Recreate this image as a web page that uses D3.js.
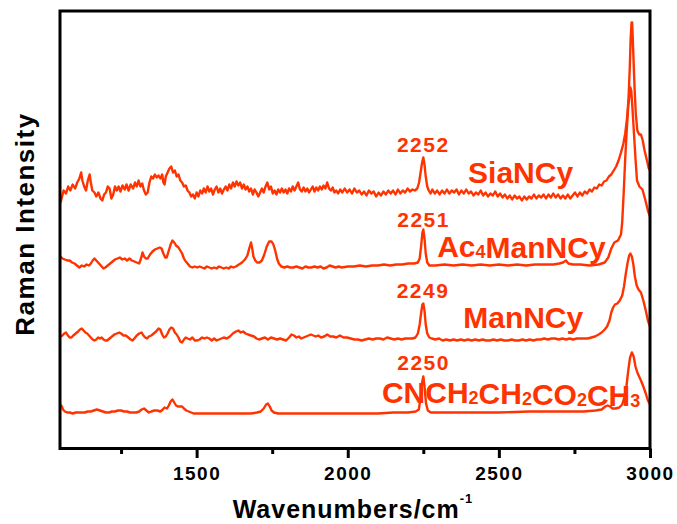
<!DOCTYPE html>
<html>
<head>
<meta charset="utf-8">
<script src="https://cdn.jsdelivr.net/npm/d3@7"></script>
<style>
  html, body { margin: 0; padding: 0; background: #fff; }
  svg { display: block; }
  text { font-family: "Liberation Sans", Arial, sans-serif; font-weight: bold; }
</style>
</head>
<body>
<svg id="chart" width="677" height="524"></svg>
<script>
// ---------- data (wavenumber cm^-1, intensity a.u. incl. stacking offset) ----------
const siaNCy = [[1050,246],[1055,252],[1060,258],[1068,255],[1075,262],[1082,258],[1090,264],[1098,260],[1105,266],[1112,270],[1118,276],[1122,268],[1128,262],[1134,258],[1140,268],[1146,274],[1150,266],[1155,258],[1162,256],[1168,252],[1175,256],[1182,250],[1188,248],[1194,254],[1200,256],[1206,262],[1212,260],[1218,250],[1224,254],[1230,262],[1236,258],[1242,262],[1248,257],[1255,263],[1262,259],[1268,264],[1275,258],[1282,264],[1290,260],[1296,266],[1302,262],[1308,268],[1314,262],[1320,265],[1326,258],[1332,254],[1338,256],[1344,266],[1350,272],[1356,270],[1362,274],[1368,271],[1374,273],[1380,270],[1386,274],[1390,266],[1394,264],[1398,272],[1404,276],[1410,280],[1416,282],[1422,276],[1428,278],[1434,272],[1440,274],[1446,268],[1452,266],[1458,262],[1464,263],[1470,258],[1476,256],[1482,252],[1488,254],[1494,250],[1500,256],[1506,252],[1512,258],[1518,255],[1524,260],[1530,256],[1536,262],[1542,257],[1548,260],[1554,254],[1560,259],[1566,262],[1572,256],[1578,260],[1584,255],[1590,259],[1596,262],[1602,258],[1608,264],[1614,260],[1620,266],[1626,262],[1632,267],[1638,263],[1644,266],[1650,260],[1656,264],[1662,259],[1668,262],[1674,257],[1680,260],[1686,254],[1692,259],[1698,256],[1704,252],[1710,256],[1716,260],[1722,256],[1728,262],[1734,266],[1740,259],[1746,262],[1752,255],[1758,258],[1764,254],[1770,259],[1776,256],[1782,260],[1788,256],[1794,259],[1800,255],[1806,260],[1812,257],[1818,262],[1824,258],[1830,262],[1836,266],[1842,259],[1848,257],[1854,261],[1860,257],[1866,260],[1872,256],[1878,259],[1884,262],[1890,257],[1896,261],[1902,258],[1908,262],[1914,259],[1920,263],[1926,260],[1932,266],[1938,260],[1944,258],[1950,261],[1956,256],[1962,258],[1968,255],[1975,259],[1982,256],[1990,260],[1998,256],[2006,259],[2014,255],[2022,260],[2030,256],[2038,258],[2046,254],[2054,257],[2062,253],[2070,258],[2078,255],[2086,257],[2094,252],[2102,256],[2110,253],[2118,257],[2126,254],[2134,258],[2142,255],[2150,258],[2158,254],[2166,259],[2174,255],[2182,258],[2190,256],[2198,260],[2206,257],[2214,259],[2222,258],[2230,260],[2236,266],[2241,276],[2246,286],[2250,291],[2254,284],[2258,272],[2263,262],[2268,258],[2274,255],[2280,259],[2288,255],[2296,258],[2304,254],[2312,258],[2320,255],[2328,259],[2336,255],[2344,258],[2352,256],[2360,259],[2368,254],[2376,258],[2384,255],[2392,259],[2400,255],[2408,257],[2416,253],[2424,256],[2432,254],[2440,258],[2448,253],[2456,256],[2464,252],[2472,255],[2480,253],[2488,257],[2496,252],[2504,255],[2512,251],[2520,254],[2528,250],[2536,253],[2544,249],[2552,253],[2560,250],[2568,252],[2576,248],[2584,252],[2592,249],[2600,252],[2608,250],[2616,254],[2624,250],[2632,253],[2640,251],[2648,254],[2656,250],[2664,254],[2672,251],[2680,255],[2688,251],[2696,254],[2704,250],[2712,253],[2720,250],[2728,254],[2736,250],[2744,253],[2752,256],[2760,252],[2768,256],[2776,253],[2784,257],[2792,255],[2800,259],[2808,257],[2816,261],[2824,260],[2832,264],[2840,263],[2848,267],[2856,268],[2864,272],[2872,274],[2880,278],[2888,282],[2896,288],[2904,296],[2912,305],[2918,315],[2924,330],[2929,350],[2933,380],[2936,410],[2939,426],[2941,426],[2943,410],[2946,385],[2949,360],[2953,335],[2958,318],[2964,314],[2970,314],[2976,308],[2982,298],[2990,288],[2996,280],[3000,278]];

const ac4ManNCy = [[1050,192],[1056,190],[1064,189],[1072,188],[1080,188],[1088,186],[1096,185],[1104,183],[1112,181],[1120,183],[1128,182],[1136,184],[1144,183],[1150,185],[1156,188],[1162,190],[1168,188],[1174,186],[1180,184],[1186,182],[1192,180],[1198,181],[1206,183],[1214,185],[1222,187],[1230,189],[1238,190],[1246,191],[1254,189],[1262,190],[1270,188],[1278,190],[1286,188],[1294,187],[1302,186],[1310,185],[1316,190],[1321,196],[1326,192],[1332,190],[1338,190],[1346,194],[1354,197],[1362,199],[1370,200],[1378,201],[1384,200],[1390,195],[1396,191],[1401,191],[1408,198],[1414,204],[1420,208],[1426,206],[1432,203],[1440,201],[1446,198],[1452,195],[1458,190],[1464,187],[1470,185],[1478,182],[1486,181],[1494,182],[1502,181],[1510,182],[1518,181],[1526,180],[1534,182],[1542,181],[1550,180],[1558,181],[1566,180],[1574,182],[1582,181],[1590,180],[1598,181],[1606,180],[1614,182],[1622,181],[1630,182],[1640,184],[1650,186],[1660,189],[1668,193],[1674,200],[1680,206],[1684,200],[1688,192],[1694,188],[1700,186],[1708,186],[1716,188],[1724,194],[1732,202],[1740,207],[1748,207],[1754,204],[1760,198],[1766,190],[1772,185],[1780,182],[1790,181],[1800,182],[1810,181],[1820,181],[1830,182],[1840,181],[1850,180],[1860,182],[1870,181],[1880,181],[1890,182],[1900,181],[1910,182],[1920,180],[1930,181],[1940,183],[1950,182],[1960,181],[1970,182],[1980,181],[2000,182],[2020,182],[2040,183],[2060,182],[2080,183],[2100,183],[2120,184],[2140,183],[2160,184],[2180,184],[2200,185],[2220,185],[2232,186],[2238,190],[2243,203],[2247,216],[2250,219],[2254,210],[2258,195],[2263,186],[2270,183],[2290,183],[2320,184],[2350,183],[2380,184],[2410,183],[2440,184],[2470,183],[2500,184],[2530,183],[2560,184],[2590,183],[2620,184],[2650,184],[2680,184],[2700,185],[2712,186],[2722,188],[2730,185],[2745,184],[2770,184],[2800,183],[2830,184],[2850,186],[2862,191],[2872,200],[2882,206],[2894,208],[2904,214],[2908,226],[2913,256],[2918,290],[2923,318],[2928,342],[2932,354],[2935,361],[2938,358],[2942,340],[2947,315],[2952,290],[2957,268],[2965,262],[2975,259],[2985,248],[2993,238],[3000,232]];

const manNCy = [[1050,112],[1056,113],[1062,115],[1068,116],[1074,113],[1080,111],[1086,111],[1092,113],[1100,115],[1108,117],[1114,119],[1120,120],[1126,118],[1132,116],[1138,115],[1144,113],[1150,111],[1156,109],[1162,108],[1168,109],[1174,111],[1180,110],[1186,111],[1192,109],[1198,108],[1204,108],[1212,110],[1220,112],[1228,114],[1236,115],[1244,116],[1250,115],[1258,113],[1266,113],[1274,111],[1282,109],[1288,108],[1294,110],[1302,113],[1310,115],[1318,116],[1324,113],[1330,111],[1336,110],[1342,112],[1350,113],[1358,115],[1366,117],[1374,120],[1380,119],[1386,114],[1392,111],[1398,112],[1404,115],[1410,119],[1416,121],[1422,120],[1428,116],[1434,114],[1440,111],[1446,107],[1452,106],[1458,109],[1464,111],[1470,110],[1478,109],[1486,111],[1494,108],[1502,108],[1510,109],[1518,111],[1526,110],[1534,111],[1542,110],[1550,108],[1558,110],[1566,108],[1574,109],[1582,110],[1590,111],[1600,110],[1610,112],[1620,115],[1630,117],[1638,118],[1646,116],[1654,117],[1662,115],[1670,114],[1680,113],[1690,112],[1698,110],[1706,109],[1716,110],[1726,111],[1736,109],[1746,111],[1756,110],[1766,109],[1776,110],[1786,109],[1796,108],[1806,111],[1814,114],[1822,113],[1830,111],[1838,112],[1846,110],[1854,111],[1862,112],[1870,113],[1878,114],[1886,113],[1894,112],[1902,113],[1912,111],[1922,112],[1932,114],[1942,112],[1952,112],[1962,111],[1974,113],[1986,111],[1998,111],[2010,110],[2022,109],[2034,109],[2046,108],[2058,109],[2070,110],[2082,109],[2094,110],[2106,110],[2118,109],[2130,111],[2142,110],[2154,109],[2166,110],[2178,109],[2190,110],[2202,110],[2214,110],[2224,111],[2232,115],[2238,124],[2243,136],[2247,144],[2250,145],[2254,138],[2258,124],[2263,115],[2270,111],[2278,110],[2290,109],[2302,110],[2314,108],[2326,109],[2338,108],[2350,109],[2362,108],[2374,109],[2386,108],[2398,109],[2410,108],[2422,109],[2434,108],[2446,109],[2458,108],[2470,108],[2482,109],[2494,108],[2506,109],[2518,108],[2530,108],[2542,109],[2554,108],[2566,108],[2578,109],[2590,108],[2602,109],[2614,108],[2626,109],[2638,109],[2650,110],[2662,109],[2674,110],[2686,110],[2698,109],[2710,110],[2722,109],[2734,110],[2746,109],[2758,110],[2770,110],[2782,110],[2794,110],[2806,111],[2818,112],[2830,114],[2840,116],[2850,119],[2858,122],[2866,128],[2872,136],[2878,141],[2884,144],[2892,145],[2900,148],[2908,153],[2914,162],[2920,175],[2926,186],[2931,193],[2935,195],[2940,192],[2945,184],[2950,172],[2956,163],[2962,159],[2970,156],[2978,148],[2986,138],[2993,128],[3000,122]];

const cnEster = [[1050,44],[1054,42],[1058,39],[1064,37],[1072,36],[1080,36],[1090,35],[1100,36],[1110,36],[1120,36],[1130,36],[1140,37],[1150,37],[1160,38],[1170,39],[1180,38],[1190,37],[1200,36],[1210,36],[1220,37],[1230,37],[1240,38],[1250,38],[1260,37],[1270,37],[1280,36],[1290,36],[1300,36],[1310,37],[1318,39],[1326,40],[1334,38],[1342,36],[1350,37],[1360,38],[1370,38],[1380,37],[1388,39],[1394,41],[1402,40],[1408,43],[1414,47],[1420,49],[1426,46],[1432,43],[1438,42],[1446,42],[1452,42],[1458,40],[1466,38],[1474,37],[1482,36],[1490,35],[1500,35],[1520,35],[1540,35],[1560,35],[1580,35],[1600,35],[1620,35],[1640,35],[1660,35],[1680,35],[1700,36],[1712,37],[1722,40],[1730,44],[1736,45],[1742,42],[1748,38],[1756,36],[1770,35],[1800,35],[1850,35],[1900,35],[1950,35],[2000,35],[2050,35],[2100,35],[2150,36],[2200,36],[2225,37],[2235,39],[2241,50],[2246,66],[2250,72],[2254,62],[2259,45],[2265,38],[2275,36],[2300,36],[2400,36],[2500,36],[2600,37],[2700,37],[2780,37],[2820,38],[2840,39],[2852,42],[2860,43],[2868,42],[2876,40],[2886,40],[2898,41],[2908,44],[2916,52],[2922,62],[2928,78],[2934,91],[2940,96],[2946,92],[2952,82],[2958,76],[2964,72],[2970,68],[2978,62],[2986,55],[2993,48],[3000,44]];

const seriesList = [siaNCy, ac4ManNCy, manNCy, cnEster];
const majorTicks = [1500, 2000, 2500, 3000];
const minorTicks = [1250, 1750, 2250, 2750];
const peakLabels = ["2252", "2251", "2249", "2250"];
const xTitle = "Wavenumbers/cm";
const yTitle = "Raman Intensity";

// ---------- layout ----------
const W = 677, H = 524;
const L = 60, R = 650, T = 11, B = 448.5;
const RED = "#ff3300";

const svg = d3.select("#chart");
svg.append("rect").attr("width", W).attr("height", H).attr("fill", "#fff");

const x = d3.scaleLinear().domain([1048, 3000]).range([L, R]);
const y = d3.scaleLinear().domain([0, 437.5]).range([B, T]);

svg.append("defs").append("clipPath").attr("id", "clip")
  .append("rect").attr("x", L).attr("y", T).attr("width", R - L).attr("height", B - T);

const line = d3.line().x(d => x(d[0])).y(d => y(d[1]));

const g = svg.append("g").attr("clip-path", "url(#clip)");
seriesList.forEach(s => {
  g.append("path").datum(s).attr("d", line)
    .attr("fill", "none").attr("stroke", RED)
    .attr("stroke-width", 2.4).attr("stroke-linejoin", "round");
});

// ---------- annotations ----------
// peak labels: [wavenumber anchor, intensity of baseline]
const peakPos = [[2250, 297], [2251, 222], [2249, 151], [2251, 79]];
peakLabels.forEach((t, i) => {
  svg.append("text").attr("x", x(peakPos[i][0])).attr("y", y(peakPos[i][1]))
    .attr("text-anchor", "middle").attr("fill", RED)
    .attr("font-size", 21).attr("letter-spacing", 1.5).text(t);
});

function compound(parts, wn, v) {
  const t = svg.append("text").attr("x", x(wn)).attr("y", y(v))
    .attr("fill", RED).attr("font-size", 30);
  parts.forEach(p => {
    if (p.sub) {
      t.append("tspan").attr("font-size", 18).attr("dy", 1).text(p.s);
      t.append("tspan").attr("font-size", 30).attr("dy", -1).text("");
    } else {
      t.append("tspan").text(p.s);
    }
  });
}
compound([{s: "SiaNCy"}], 2398, 265.5);
compound([{s: "Ac"}, {s: "4", sub: true}, {s: "ManNCy"}], 2296, 192);
compound([{s: "ManNCy"}], 2382, 120.5);
compound([{s: "CNCH"}, {s: "2", sub: true}, {s: "CH"}, {s: "2", sub: true}, {s: "CO"}, {s: "2", sub: true}, {s: "CH"}, {s: "3", sub: true}], 2113, 45.5);

// ---------- axes ----------
const axMinor = d3.axisBottom(x).tickValues(minorTicks).tickSize(5.5).tickFormat("");
const axMajor = d3.axisBottom(x).tickValues(majorTicks).tickSize(9.5).tickPadding(9).tickFormat(d3.format("d"));

const gMinor = svg.append("g").attr("transform", `translate(0,${B})`).call(axMinor);
const gMajor = svg.append("g").attr("transform", `translate(0,${B})`).call(axMajor);
[gMinor, gMajor].forEach(a => {
  a.select(".domain").remove();
  a.selectAll(".tick line").attr("stroke", "#000").attr("stroke-width", 3);
});
gMajor.selectAll(".tick text").attr("fill", "#000")
  .attr("font-size", 19).attr("letter-spacing", 1.5)
  .attr("font-family", "'Liberation Sans', Arial, sans-serif").attr("font-weight", "bold");

// frame
svg.append("rect").attr("x", L).attr("y", T).attr("width", R - L).attr("height", B - T)
  .attr("fill", "none").attr("stroke", "#000").attr("stroke-width", 3);

// titles
const xt = svg.append("text").attr("x", 353).attr("y", 518)
  .attr("text-anchor", "middle").attr("fill", "#000").attr("font-size", 25).attr("letter-spacing", 1);
xt.append("tspan").text(xTitle);
xt.append("tspan").attr("font-size", 13).attr("dy", -15).text("-1");

svg.append("text").attr("transform", "translate(34,224) rotate(-90)")
  .attr("text-anchor", "middle").attr("fill", "#000")
  .attr("font-size", 26).attr("letter-spacing", 1.5).text(yTitle);
</script>
</body>
</html>
